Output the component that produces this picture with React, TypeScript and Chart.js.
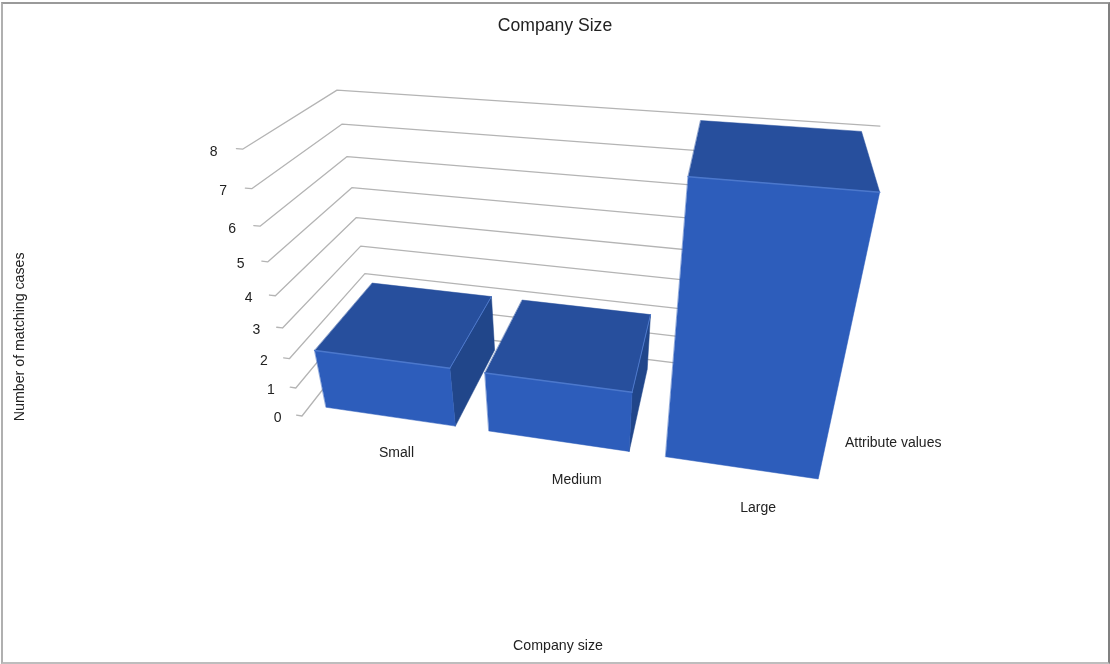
import React, { useEffect, useRef } from "react";
import { Chart, registerables } from "chart.js";

Chart.register(...registerables);

// Chart content
const categories = ["Small", "Medium", "Large"];
const matchingCases = [2, 2, 8];
const chartTitle = "Company Size";
const valueAxisTitle = "Number of matching cases";
const categoryAxisTitle = "Company size";
const depthAxisTitle = "Attribute values";

// Perspective camera: three vanishing points plus the scale along each axis.
const ORIGIN = { x: 302, y: 416 };
const VANISH_X = { x: -3670, y: -175 };
const VANISH_Y = { x: 571, y: 1632 };
const VANISH_Z = { x: 768, y: -180 };
const SCALE_X = -0.1192;
const SCALE_Y = -0.18;
const SCALE_Z = 0.179;

// Bars fill the middle of the floor's depth.
const BAR_DEPTH_START = 0.105;
const BAR_DEPTH_END = 0.893;
const TICK_LENGTH = 0.0115;

const FRONT_COLOR = "#2d5dbb";
const TOP_COLOR = "#274f9d";
const SIDE_COLOR = "#21468a";
const EDGE_COLOR = "#4c78cc";
const GRID_COLOR = "#b4b4b4";
const TEXT_COLOR = "#222222";
const FONT_FAMILY = "'Liberation Sans', Arial, sans-serif";

// Small horizontal adjustments for the category captions.
const captionShift = [-4, 5, 0];
// Vertical adjustments for the same captions.
const captionDrop = [25, 27, 27];

function project(x: number, y: number, z: number) {
  const ax = SCALE_X * x;
  const ay = SCALE_Y * y;
  const az = SCALE_Z * z;
  const d = 1 + ax + ay + az;
  return {
    x: (ORIGIN.x + ax * VANISH_X.x + ay * VANISH_Y.x + az * VANISH_Z.x) / d,
    y: (ORIGIN.y + ax * VANISH_X.y + ay * VANISH_Y.y + az * VANISH_Z.y) / d,
  };
}

type Pt = { x: number; y: number };

function polygon(ctx: CanvasRenderingContext2D, pts: Pt[], color: string) {
  ctx.beginPath();
  pts.forEach((p, i) => (i ? ctx.lineTo(p.x, p.y) : ctx.moveTo(p.x, p.y)));
  ctx.closePath();
  ctx.fillStyle = color;
  ctx.strokeStyle = color;
  ctx.lineWidth = 0.5;
  ctx.fill();
  ctx.stroke();
}

function edge(ctx: CanvasRenderingContext2D, a: Pt, b: Pt, width: number) {
  ctx.beginPath();
  ctx.moveTo(a.x, a.y);
  ctx.lineTo(b.x, b.y);
  ctx.strokeStyle = EDGE_COLOR;
  ctx.lineWidth = width;
  ctx.stroke();
}

// Draws the floor-relative grid, the extruded bars and their captions.
const perspectivePlugin = {
  id: "perspectiveBars",
  beforeDatasetsDraw(chart: any) {
    const { ctx, chartArea } = chart;
    const xScale = chart.scales.x;
    const yScale = chart.scales.y;
    const toX = (px: number) => (px - chartArea.left) / chartArea.width;
    const toY = (py: number) => (chartArea.bottom - py) / chartArea.height;
    const meta = chart.getDatasetMeta(0);
    const lastBar = meta.data[meta.data.length - 1];
    const lastBarRight = toX(lastBar.x + lastBar.width / 2);

    ctx.save();
    ctx.lineCap = "round";
    ctx.lineJoin = "round";

    // Grid and value labels come from the value scale's ticks.
    ctx.font = `14px ${FONT_FAMILY}`;
    ctx.textAlign = "center";
    ctx.textBaseline = "middle";
    yScale.ticks.forEach((tick: any) => {
      const y = toY(yScale.getPixelForValue(tick.value));
      // Lower lines stop behind the last bar; only the top one runs the full width.
      const end = y < 1 ? lastBarRight : 1;
      const path = [
        project(-TICK_LENGTH, y, 0),
        project(0, y, 0),
        project(0, y, 1),
        project(end, y, 1),
      ];
      ctx.beginPath();
      path.forEach((p, i) => (i ? ctx.lineTo(p.x, p.y) : ctx.moveTo(p.x, p.y)));
      ctx.strokeStyle = GRID_COLOR;
      ctx.lineWidth = 1.3;
      ctx.stroke();

      const label = project(-0.052, y, 0);
      ctx.fillStyle = TEXT_COLOR;
      ctx.fillText(String(tick.value), label.x, label.y + 5.5);
    });

    // Bars, from the bar elements laid out by the controller.
    meta.data.forEach((bar: any, index: number) => {
      const left = toX(bar.x - bar.width / 2);
      const right = toX(bar.x + bar.width / 2);
      const top = toY(bar.y);
      const z0 = BAR_DEPTH_START;
      const z1 = BAR_DEPTH_END;

      const frontTL = project(left, top, z0);
      const frontTR = project(right, top, z0);
      const frontBL = project(left, 0, z0);
      const frontBR = project(right, 0, z0);
      const backTL = project(left, top, z1);
      const backTR = project(right, top, z1);
      const backBR = project(right, 0, z1);

      const sideVisible = frontTR.x < VANISH_Z.x;
      if (sideVisible) {
        polygon(ctx, [frontTR, backTR, backBR, frontBR], SIDE_COLOR);
      }
      polygon(ctx, [frontTL, frontTR, backTR, backTL], TOP_COLOR);
      polygon(ctx, [frontTL, frontTR, frontBR, frontBL], FRONT_COLOR);
      edge(ctx, frontTL, frontTR, 1.5);
      if (sideVisible) {
        edge(ctx, frontTR, backTR, 1);
      }

      const caption = project(toX(xScale.getPixelForValue(index)), 0, 0);
      ctx.fillStyle = TEXT_COLOR;
      ctx.textAlign = "center";
      ctx.fillText(
        categories[index],
        caption.x + 18 + captionShift[index],
        caption.y + captionDrop[index]
      );
    });

    // Caption at the middle of the floor's right edge.
    const depthCaption = project(1, 0, 0.5);
    ctx.fillStyle = TEXT_COLOR;
    ctx.textAlign = "left";
    ctx.fillText(depthAxisTitle, depthCaption.x + 12, depthCaption.y + 10);
    ctx.restore();
  },
};

export default function App() {
  const canvasRef = useRef<HTMLCanvasElement>(null);

  useEffect(() => {
    document.body.style.margin = "0";
    const chart = new Chart(canvasRef.current as HTMLCanvasElement, {
      type: "bar",
      data: {
        labels: categories,
        datasets: [
          {
            data: matchingCases,
            backgroundColor: "transparent",
            borderWidth: 0,
            categoryPercentage: 0.8,
            barPercentage: 1,
          },
        ],
      },
      plugins: [perspectivePlugin],
      options: {
        animation: false,
        responsive: false,
        layout: { padding: { left: 0, right: 0, top: 0, bottom: 9 } },
        plugins: {
          legend: { display: false },
          tooltip: { enabled: false },
          title: {
            display: true,
            text: chartTitle,
            color: TEXT_COLOR,
            font: { family: FONT_FAMILY, size: 17.6, weight: "normal" },
            padding: { top: 15.5, bottom: 7 },
          },
        },
        scales: {
          x: {
            grid: { display: false },
            border: { display: false },
            ticks: { display: false },
            title: {
              display: true,
              text: categoryAxisTitle,
              color: TEXT_COLOR,
              font: { family: FONT_FAMILY, size: 14.2 },
              padding: { top: 0, bottom: 0 },
            },
          },
          y: {
            min: 0,
            max: 8,
            grid: { display: false },
            border: { display: false },
            ticks: { display: false, stepSize: 1 },
            title: {
              display: true,
              text: valueAxisTitle,
              color: TEXT_COLOR,
              font: { family: FONT_FAMILY, size: 14.2 },
              padding: { top: 12, bottom: 0 },
            },
          },
          // Empty right-hand axis that keeps the plot area centred under the title.
          spacer: {
            position: "right",
            grid: { display: false },
            border: { display: false },
            ticks: { display: false },
            afterFit(scale: any) {
              scale.width = 31;
            },
          },
        },
      },
    } as any);
    return () => chart.destroy();
  }, []);

  return (
    <div style={{ position: "relative", width: 1110, height: 664, background: "#fff", overflow: "hidden" }}>
      <canvas ref={canvasRef} width={1110} height={664} style={{ display: "block" }} />
      <div
        style={{
          position: "absolute",
          left: 1,
          top: 2,
          right: 0,
          bottom: 0,
          boxSizing: "border-box",
          borderLeft: "2px solid #b0b0b0",
          borderTop: "2px solid #9a9a9a",
          borderRight: "2px solid #808080",
          borderBottom: "2px solid #bdbdbd",
          pointerEvents: "none",
        }}
      />
    </div>
  );
}
